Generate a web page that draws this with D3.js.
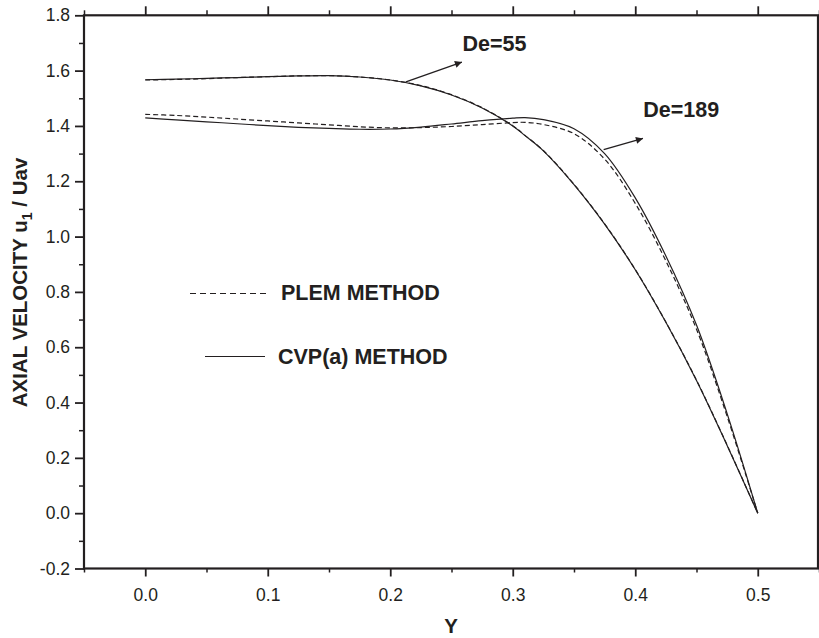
<!DOCTYPE html>
<html>
<head>
<meta charset="utf-8">
<script src="https://cdn.jsdelivr.net/npm/d3@7"></script>
<style>
  html, body { margin: 0; padding: 0; background: #fff; }
  svg { display: block; font-family: Arial, "Liberation Sans", Helvetica, sans-serif; }
</style>
</head>
<body>
<svg id="chart" width="819" height="638"></svg>
<script>
// Radial position Y across the duct
const yPos = [0, 0.025, 0.05, 0.075, 0.1, 0.125, 0.15, 0.175, 0.2, 0.225, 0.25, 0.275, 0.3, 0.31, 0.325, 0.35, 0.375, 0.4, 0.425, 0.45, 0.475, 0.5];

// Axial velocity u1/Uav, De = 55
const de55Cvp  = [1.567, 1.569, 1.572, 1.575, 1.578, 1.581, 1.582, 1.577, 1.566, 1.545, 1.512, 1.465, 1.400, 1.365, 1.310, 1.188, 1.045, 0.880, 0.690, 0.480, 0.245, 0];
const de55Plem = [1.566, 1.568, 1.571, 1.575, 1.578, 1.581, 1.582, 1.577, 1.566, 1.546, 1.513, 1.466, 1.401, 1.366, 1.311, 1.189, 1.046, 0.881, 0.691, 0.481, 0.246, 0];

// Axial velocity u1/Uav, De = 189
const de189Cvp  = [1.429, 1.422, 1.415, 1.408, 1.401, 1.395, 1.391, 1.388, 1.389, 1.396, 1.407, 1.419, 1.428, 1.430, 1.423, 1.390, 1.300, 1.140, 0.930, 0.680, 0.360, 0];
const de189Plem = [1.442, 1.438, 1.432, 1.425, 1.418, 1.411, 1.404, 1.397, 1.393, 1.394, 1.398, 1.405, 1.412, 1.413, 1.405, 1.372, 1.280, 1.120, 0.912, 0.665, 0.350, 0];

// Tick values
const xMajor = [0, 0.1, 0.2, 0.3, 0.4, 0.5];
const xMinor = [-0.05, 0.05, 0.15, 0.25, 0.35, 0.45, 0.55];
const yMajor = [-0.2, 0, 0.2, 0.4, 0.6, 0.8, 1.0, 1.2, 1.4, 1.6, 1.8];
const yMinor = [-0.1, 0.1, 0.3, 0.5, 0.7, 0.9, 1.1, 1.3, 1.5, 1.7];

// Annotation arrows: [from, to] in data units, and label anchors
const arrow55  = [[0.2128, 1.559], [0.2585, 1.631]];
const arrow189 = [[0.3742, 1.314], [0.4063, 1.355]];
const label55  = [0.259, 1.670, "De=55"];
const label189 = [0.4065, 1.431, "De=189"];

const svg = d3.select("#chart");
const plotL = 84, plotR = 819, plotT = 15.3, plotB = 568.5;
const ink = "#231f20";
const bigFont = 21.5;

const x = d3.scaleLinear().domain([-0.05, 0.55]).range([plotL, plotR]);
const y = d3.scaleLinear().domain([-0.2, 1.8]).range([plotB, plotT]);

// one decimal, plain hyphen for negatives
const fmt = v => d3.format(".1f")(v).replace("\u2212", "-");

function styleAxis(g, width) {
  g.select(".domain").remove();
  g.selectAll(".tick line").attr("stroke", ink).attr("stroke-width", width);
  g.selectAll(".tick text").attr("fill", ink).attr("font-size", 17.5)
    .attr("font-family", "Arial, 'Liberation Sans', sans-serif");
}

// bottom axis
svg.append("g").attr("transform", `translate(0,${plotB})`)
  .call(d3.axisBottom(x).tickValues(xMajor).tickFormat(fmt).tickSize(8).tickPadding(12))
  .call(g => styleAxis(g, 1.8));
svg.append("g").attr("transform", `translate(0,${plotB})`)
  .call(d3.axisBottom(x).tickValues(xMinor).tickFormat("").tickSize(4))
  .call(g => styleAxis(g, 1.5));
// top axis
svg.append("g").attr("transform", `translate(0,${plotT})`)
  .call(d3.axisTop(x).tickValues(xMajor).tickFormat("").tickSize(9))
  .call(g => styleAxis(g, 1.8));
svg.append("g").attr("transform", `translate(0,${plotT})`)
  .call(d3.axisTop(x).tickValues(xMinor).tickFormat("").tickSize(5))
  .call(g => styleAxis(g, 1.5));
// left axis
svg.append("g").attr("transform", `translate(${plotL},0)`)
  .call(d3.axisLeft(y).tickValues(yMajor).tickFormat(fmt).tickSize(9).tickPadding(5))
  .call(g => styleAxis(g, 1.8));
svg.append("g").attr("transform", `translate(${plotL},0)`)
  .call(d3.axisLeft(y).tickValues(yMinor).tickFormat("").tickSize(5))
  .call(g => styleAxis(g, 1.5));

// frame
svg.append("rect")
  .attr("x", plotL).attr("y", plotT)
  .attr("width", 818 - plotL).attr("height", plotB - plotT)
  .attr("fill", "none").attr("stroke", ink).attr("stroke-width", 2.2);

// curves
const line = d3.line().x(d => x(d[0])).y(d => y(d[1])).curve(d3.curveCatmullRom.alpha(0.5));
function draw(vals, dashed) {
  svg.append("path")
    .datum(yPos.map((p, i) => [p, vals[i]]))
    .attr("d", line)
    .attr("fill", "none")
    .attr("stroke", ink)
    .attr("stroke-width", 1.2)
    .attr("stroke-dasharray", dashed ? "5,3" : null);
}
draw(de55Cvp, false);
draw(de55Plem, true);
draw(de189Cvp, false);
draw(de189Plem, true);

// arrowhead marker
svg.append("defs").append("marker")
  .attr("id", "head").attr("viewBox", "0 0 10 10")
  .attr("refX", 10).attr("refY", 5)
  .attr("markerWidth", 11).attr("markerHeight", 7)
  .attr("markerUnits", "userSpaceOnUse")
  .attr("orient", "auto")
  .append("path").attr("d", "M0,0 L10,5 L0,10 Z").attr("fill", ink);

function arrow(a) {
  svg.append("line")
    .attr("x1", x(a[0][0])).attr("y1", y(a[0][1]))
    .attr("x2", x(a[1][0])).attr("y2", y(a[1][1]))
    .attr("stroke", ink).attr("stroke-width", 1.3)
    .attr("marker-end", "url(#head)");
}
arrow(arrow55);
arrow(arrow189);

function label(l) {
  svg.append("text")
    .attr("x", x(l[0])).attr("y", y(l[1]))
    .attr("font-size", bigFont).attr("font-weight", "bold").attr("fill", ink)
    .text(l[2]);
}
label(label55);
label(label189);

// legend
svg.append("line").attr("x1", 190).attr("x2", 270).attr("y1", 293.5).attr("y2", 293.5)
  .attr("stroke", ink).attr("stroke-width", 1.2).attr("stroke-dasharray", "6,4");
svg.append("text").attr("x", 281).attr("y", 299.5)
  .attr("font-size", bigFont).attr("font-weight", "bold").attr("fill", ink).text("PLEM METHOD");
svg.append("line").attr("x1", 205).attr("x2", 265).attr("y1", 356.5).attr("y2", 356.5)
  .attr("stroke", ink).attr("stroke-width", 1.2);
svg.append("text").attr("x", 278).attr("y", 363.5)
  .attr("font-size", bigFont).attr("font-weight", "bold").attr("fill", ink).text("CVP(a) METHOD");

// axis titles
svg.append("text")
  .attr("x", (plotL + 818) / 2).attr("y", 632.5)
  .attr("text-anchor", "middle")
  .attr("font-size", 20.5).attr("font-weight", "bold").attr("fill", ink)
  .text("Y");

const yt = svg.append("text")
  .attr("transform", `translate(27,${(150 + 415) / 2}) rotate(-90)`)
  .attr("text-anchor", "middle")
  .attr("font-size", 20.5).attr("font-weight", "bold").attr("fill", ink);
yt.append("tspan").text("AXIAL VELOCITY u");
yt.append("tspan").attr("font-size", 14).attr("dy", 5).text("1");
yt.append("tspan").attr("dy", -5).text(" / Uav");
</script>
</body>
</html>
